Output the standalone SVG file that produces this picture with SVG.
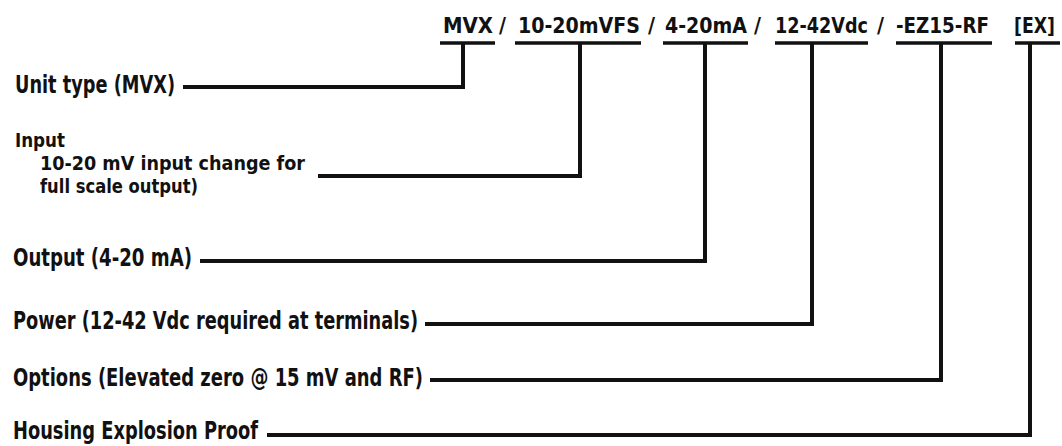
<svg xmlns="http://www.w3.org/2000/svg" width="1062" height="446" viewBox="0 0 1062 446">
<style>
text{font-family:"Liberation Sans Narrow","DejaVu Sans Condensed","Liberation Sans",sans-serif;font-weight:bold;font-size:24px;fill:#111}
.hd{font-size:21px}
.sm{font-size:20px}
.ln{fill:none;stroke:#111;stroke-width:4;stroke-linejoin:miter;stroke-linecap:butt}
.ul{stroke:#111;stroke-width:3.5}
</style>
<rect width="1062" height="446" fill="#fff"/>
<g id="code">
<text class="hd" y="33"><tspan x="443" textLength="50" lengthAdjust="spacingAndGlyphs">MVX</tspan><tspan x="499" textLength="7" lengthAdjust="spacingAndGlyphs">/</tspan><tspan x="518" textLength="122" lengthAdjust="spacingAndGlyphs">10-20mVFS</tspan><tspan x="648" textLength="7" lengthAdjust="spacingAndGlyphs">/</tspan><tspan x="665" textLength="82" lengthAdjust="spacingAndGlyphs">4-20mA</tspan><tspan x="754" textLength="7" lengthAdjust="spacingAndGlyphs">/</tspan><tspan x="775" textLength="93" lengthAdjust="spacingAndGlyphs">12-42Vdc</tspan><tspan x="877" textLength="7" lengthAdjust="spacingAndGlyphs">/</tspan><tspan x="896" textLength="93" lengthAdjust="spacingAndGlyphs">-EZ15-RF</tspan><tspan x="1014" textLength="41" lengthAdjust="spacingAndGlyphs">[EX]</tspan></text>
<line class="ul" x1="440" y1="43" x2="495" y2="43"/>
<line class="ul" x1="515" y1="43" x2="641" y2="43"/>
<line class="ul" x1="663" y1="43" x2="748" y2="43"/>
<line class="ul" x1="775" y1="43" x2="868" y2="43"/>
<line class="ul" x1="896" y1="43" x2="992" y2="43"/>
<line class="ul" x1="1015" y1="43" x2="1060" y2="43"/>
</g>
<g id="unit-type"><text x="15" y="93" textLength="160" lengthAdjust="spacingAndGlyphs">Unit type (MVX)</text></g>
<g id="input">
<text class="sm" x="15" y="147" textLength="50" lengthAdjust="spacingAndGlyphs">Input</text>
<text class="sm" x="40" y="170" textLength="265" lengthAdjust="spacingAndGlyphs">10-20 mV input change for</text>
<text class="sm" x="40" y="193" textLength="158" lengthAdjust="spacingAndGlyphs">full scale output)</text>
</g>
<g id="output"><text x="13" y="266" textLength="179" lengthAdjust="spacingAndGlyphs">Output (4-20 mA)</text></g>
<g id="power"><text x="13" y="329" textLength="405" lengthAdjust="spacingAndGlyphs">Power (12-42 Vdc required at terminals)</text></g>
<g id="options"><text x="13" y="386" textLength="410" lengthAdjust="spacingAndGlyphs">Options (Elevated zero @ 15 mV and RF)</text></g>
<g id="housing"><text x="13" y="439" textLength="245" lengthAdjust="spacingAndGlyphs">Housing Explosion Proof</text></g>
<g id="connectors">
<polyline class="ln" points="183,87 463,87 463,43"/>
<polyline class="ln" points="318,176 580,176 580,43"/>
<polyline class="ln" points="200,261 705,261 705,43"/>
<polyline class="ln" points="425,324 812,324 812,43"/>
<polyline class="ln" points="430,380 941,380 941,43"/>
<polyline class="ln" points="267,435 1030,435 1030,43"/>
</g>
</svg>
